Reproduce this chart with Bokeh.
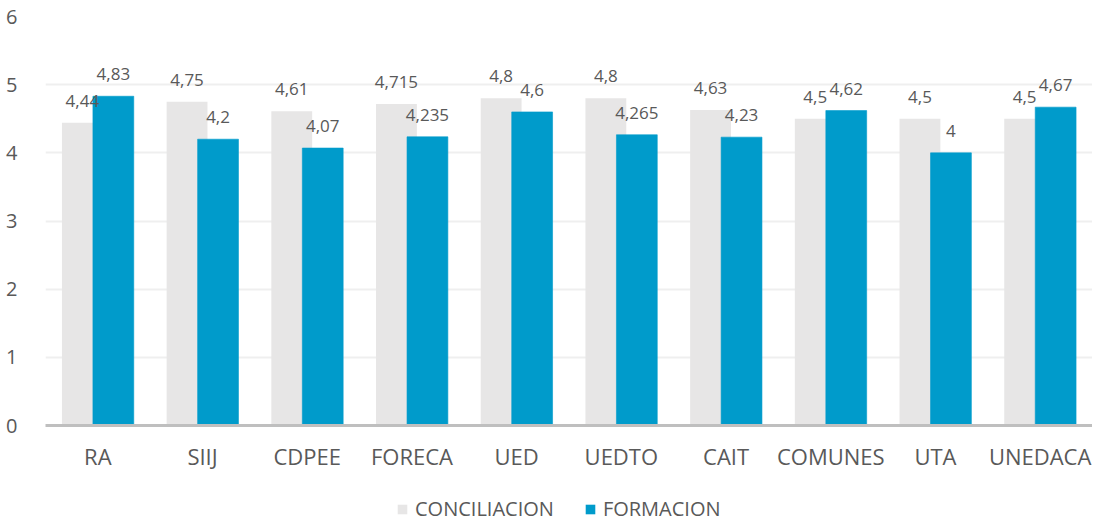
from bokeh.plotting import figure
from bokeh.layouts import column
from bokeh.models import ColumnDataSource, FactorRange, Legend, LegendItem, SingleIntervalTicker, Range1d
from bokeh.transform import dodge
from bokeh.core.properties import value
from bokeh.embed import file_html
from bokeh.resources import INLINE

categories = ["RA", "SIIJ", "CDPEE", "FORECA", "UED", "UEDTO", "CAIT", "COMUNES", "UTA", "UNEDACA"]
conciliacion = [4.44, 4.75, 4.61, 4.715, 4.8, 4.8, 4.63, 4.5, 4.5, 4.5]
formacion = [4.83, 4.2, 4.07, 4.235, 4.6, 4.265, 4.23, 4.62, 4.0, 4.67]
series_names = ["CONCILIACION", "FORMACION"]

def fmt(v):
    return ("%g" % v).replace(".", ",")

src = ColumnDataSource(dict(
    cat=categories,
    conc=conciliacion,
    form=formacion,
    conc_lbl=[fmt(v) for v in conciliacion],
    form_lbl=[fmt(v) for v in formacion],
))

FONT = "Open Sans"
GRAY = "#E7E6E6"
BLUE = "#009BCB"
TXT = "#595959"

xr = FactorRange(*categories, range_padding=0)
p = figure(x_range=xr, y_range=(0, 6),
           width=1092, height=477, output_backend="svg", toolbar_location=None,
           min_border_left=45, min_border_right=0, min_border_top=16, min_border_bottom=52)
p.outline_line_color = None

p.vbar(x=dodge("cat", -0.148, range=xr), top="conc", width=0.39, source=src,
       fill_color=GRAY, line_color=None)
p.vbar(x=dodge("cat", 0.148, range=xr), top="form", width=0.39, source=src,
       fill_color=BLUE, line_color=BLUE, line_alpha=0.6, line_width=1)

p.text(x=dodge("cat", -0.148, range=xr), y="conc", text="conc_lbl", source=src,
       text_align="center", text_baseline="bottom", y_offset=-16,
       text_font=value(FONT), text_font_size="17px", text_color=TXT)
p.text(x=dodge("cat", 0.148, range=xr), y="form", text="form_lbl", source=src,
       text_align="center", text_baseline="bottom", y_offset=-16,
       text_font=value(FONT), text_font_size="17px", text_color=TXT)

p.yaxis.ticker = SingleIntervalTicker(interval=1)
p.yaxis.axis_line_color = None
p.yaxis.major_tick_line_color = None
p.yaxis.minor_tick_line_color = None
p.yaxis.major_label_text_font = FONT
p.yaxis.major_label_text_font_size = "20px"
p.yaxis.major_label_text_color = TXT
p.yaxis.major_label_standoff = 22

p.xaxis.axis_line_color = "#BFBFBF"
p.xaxis.axis_line_width = 3
p.xaxis.major_tick_line_color = None
p.xaxis.minor_tick_line_color = None
p.xaxis.major_label_text_font = FONT
p.xaxis.major_label_text_font_size = "22px"
p.xaxis.major_label_text_color = TXT
p.xaxis.major_label_standoff = 9

p.xgrid.grid_line_color = None
p.ygrid.grid_line_color = "#EFEFEF"
p.ygrid.grid_line_width = 2

# legend strip below the chart (bars kept out of its view; only legend swatches show)
lg = figure(width=1092, height=45, x_range=xr, y_range=Range1d(100, 101), output_backend="svg",
            toolbar_location=None, min_border=0)
lg.axis.visible = False
lg.grid.visible = False
lg.outline_line_color = None
g1 = lg.vbar(x="cat", top="conc", width=0.39, source=src, fill_color=GRAY, line_color=None)
g2 = lg.vbar(x="cat", top="form", width=0.39, source=src, fill_color=BLUE, line_color=None)
legend = Legend(items=[LegendItem(label=series_names[0], renderers=[g1]),
                       LegendItem(label=series_names[1], renderers=[g2])],
                orientation="horizontal", location=(351, 0),
                padding=0, margin=0, spacing=30, glyph_width=12, glyph_height=12,
                label_standoff=7, label_text_font=FONT, label_text_font_size="20px",
                label_text_color=TXT, border_line_color=None, background_fill_alpha=0)
lg.add_layout(legend, "center")

open("out.html", "w").write(file_html(column(p, lg), INLINE))
